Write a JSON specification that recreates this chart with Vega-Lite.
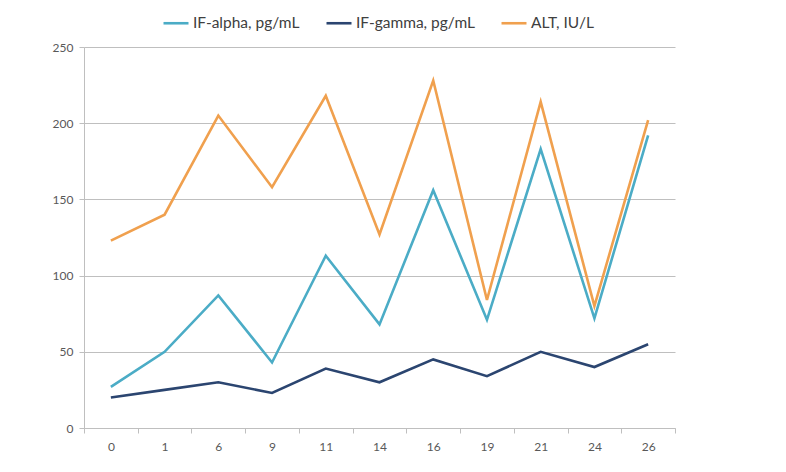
{
  "$schema": "https://vega.github.io/schema/vega-lite/v6.json",
  "width": 591,
  "height": 381,
  "autosize": {"type": "none"},
  "padding": {"left": 84, "top": 47, "right": 111, "bottom": 44},
  "background": "white",
  "config": {
    "view": {"stroke": null},
    "font": "Lato",
    "axis": {
      "labelFont": "Lato",
      "labelFontSize": 12,
      "labelColor": "#595959",
      "domainColor": "#BFBFBF",
      "tickColor": "#BFBFBF",
      "gridColor": "#BFBFBF",
      "title": null
    }
  },
  "data": {
    "values": [
      {"day": "0", "series": "IF-alpha, pg/mL", "value": 27},
      {"day": "1", "series": "IF-alpha, pg/mL", "value": 50},
      {"day": "6", "series": "IF-alpha, pg/mL", "value": 87},
      {"day": "9", "series": "IF-alpha, pg/mL", "value": 43},
      {"day": "11", "series": "IF-alpha, pg/mL", "value": 113},
      {"day": "14", "series": "IF-alpha, pg/mL", "value": 68},
      {"day": "16", "series": "IF-alpha, pg/mL", "value": 156},
      {"day": "19", "series": "IF-alpha, pg/mL", "value": 71},
      {"day": "21", "series": "IF-alpha, pg/mL", "value": 183},
      {"day": "24", "series": "IF-alpha, pg/mL", "value": 72},
      {"day": "26", "series": "IF-alpha, pg/mL", "value": 192},
      {"day": "0", "series": "IF-gamma, pg/mL", "value": 20},
      {"day": "1", "series": "IF-gamma, pg/mL", "value": 25},
      {"day": "6", "series": "IF-gamma, pg/mL", "value": 30},
      {"day": "9", "series": "IF-gamma, pg/mL", "value": 23},
      {"day": "11", "series": "IF-gamma, pg/mL", "value": 39},
      {"day": "14", "series": "IF-gamma, pg/mL", "value": 30},
      {"day": "16", "series": "IF-gamma, pg/mL", "value": 45},
      {"day": "19", "series": "IF-gamma, pg/mL", "value": 34},
      {"day": "21", "series": "IF-gamma, pg/mL", "value": 50},
      {"day": "24", "series": "IF-gamma, pg/mL", "value": 40},
      {"day": "26", "series": "IF-gamma, pg/mL", "value": 55},
      {"day": "0", "series": "ALT, IU/L", "value": 123},
      {"day": "1", "series": "ALT, IU/L", "value": 140},
      {"day": "6", "series": "ALT, IU/L", "value": 205},
      {"day": "9", "series": "ALT, IU/L", "value": 158},
      {"day": "11", "series": "ALT, IU/L", "value": 218},
      {"day": "14", "series": "ALT, IU/L", "value": 127},
      {"day": "16", "series": "ALT, IU/L", "value": 228},
      {"day": "19", "series": "ALT, IU/L", "value": 84},
      {"day": "21", "series": "ALT, IU/L", "value": 214},
      {"day": "24", "series": "ALT, IU/L", "value": 80},
      {"day": "26", "series": "ALT, IU/L", "value": 202}
    ]
  },
  "mark": {"type": "line", "strokeWidth": 2.6},
  "encoding": {
    "x": {
      "field": "day",
      "type": "ordinal",
      "scale": {
        "domain": ["0", "1", "6", "9", "11", "14", "16", "19", "21", "24", "26"],
        "paddingInner": 0,
        "paddingOuter": 0
      },
      "axis": {
        "labelAngle": 0,
        "tickBand": "extent",
        "tickSize": 5,
        "labelPadding": 8,
        "grid": false
      }
    },
    "y": {
      "field": "value",
      "type": "quantitative",
      "scale": {"domain": [0, 250], "nice": false},
      "axis": {
        "values": [0, 50, 100, 150, 200, 250],
        "tickSize": 5,
        "labelPadding": 6,
        "grid": true
      }
    },
    "color": {
      "field": "series",
      "type": "nominal",
      "scale": {
        "domain": ["IF-alpha, pg/mL", "IF-gamma, pg/mL", "ALT, IU/L"],
        "range": ["#4BACC6", "#2B4570", "#F0A04E"]
      },
      "legend": {
        "title": null,
        "orient": "none",
        "direction": "horizontal",
        "legendX": 78,
        "legendY": -38,
        "symbolType": "stroke",
        "symbolSize": 625,
        "symbolStrokeWidth": 2.6,
        "labelOffset": 3,
        "columnPadding": 21,
        "labelFont": "Lato",
        "labelFontSize": 15.5,
        "labelColor": "#404040"
      }
    }
  }
}
